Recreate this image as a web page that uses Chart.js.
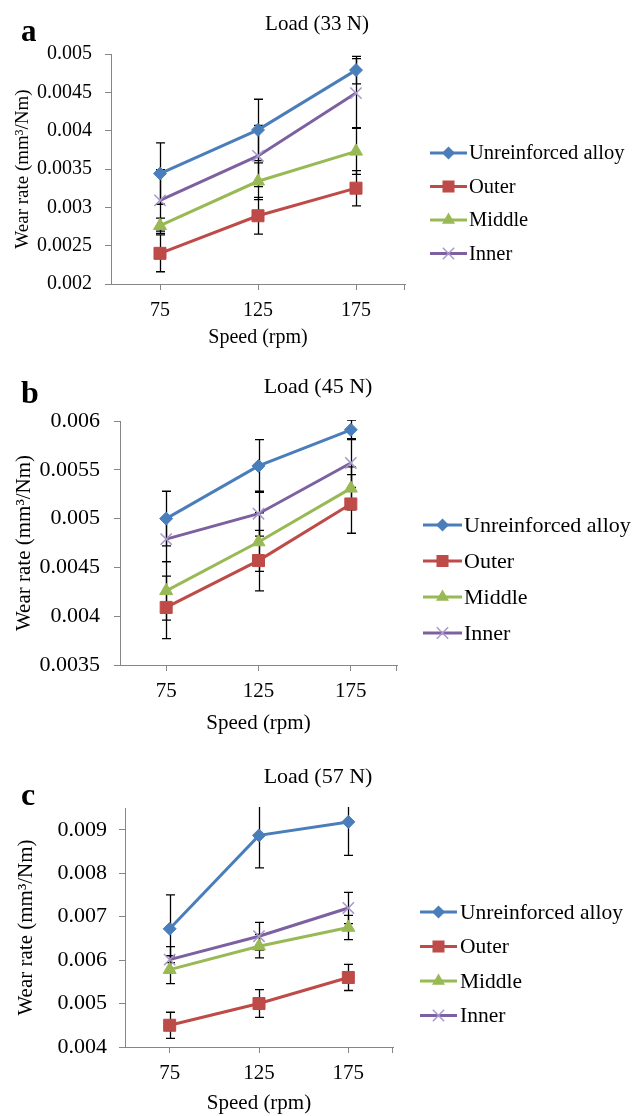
<!DOCTYPE html>
<html>
<head>
<meta charset="utf-8">
<script src="https://cdn.jsdelivr.net/npm/chart.js"></script>
<style>
  html, body { margin: 0; padding: 0; background: #fff; }
  body { width: 632px; height: 1116px; position: relative; overflow: hidden; }
  canvas { position: absolute; left: 0; }
</style>
</head>
<body>
<canvas id="ca" width="632" height="355" style="top:0px"></canvas>
<canvas id="cb" width="632" height="385" style="top:355px"></canvas>
<canvas id="cc" width="632" height="376" style="top:740px"></canvas>
<script>
// ---------- DATA ----------
const speeds = ['75', '125', '175'];
const seriesNames = ['Unreinforced alloy', 'Outer', 'Middle', 'Inner'];

// Panel a: Load (33 N)
const unreinforcedA = [0.00344, 0.00401, 0.00479];
const outerA        = [0.00240, 0.00289, 0.00325];
const middleA       = [0.00276, 0.00334, 0.00373];
const innerA        = [0.00309, 0.00367, 0.00449];
const unreinforcedErrA = [0.00040, 0.00040, 0.00018];
const outerErrA        = [0.00024, 0.00024, 0.00023];
const middleErrA       = [0.00010, 0.00024, 0.00030];
const innerErrA        = [0.00040, 0.00040, 0.00045];

// Panel b: Load (45 N)
const unreinforcedB = [0.00500, 0.00554, 0.00591];
const outerB        = [0.00409, 0.00457, 0.00515];
const middleB       = [0.00426, 0.00476, 0.00531];
const innerB        = [0.00479, 0.00505, 0.00557];
const unreinforcedErrB = [0.00028, 0.00027, 0.00010];
const outerErrB        = [0.00032, 0.00031, 0.00030];
const middleErrB       = [0.00030, 0.00030, 0.00022];
const innerErrB        = [0.00023, 0.00023, 0.00025];

// Panel c: Load (57 N)
const unreinforcedC = [0.00672, 0.00887, 0.00918];
const outerC        = [0.00450, 0.00500, 0.00560];
const middleC       = [0.00578, 0.00632, 0.00675];
const innerC        = [0.00601, 0.00655, 0.00720];
const unreinforcedErrC = [0.00078, 0.00075, 0.00077];
const outerErrC        = [0.00030, 0.00032, 0.00030];
const middleErrC       = [0.00032, 0.00027, 0.00028];
const innerErrC        = [0.00030, 0.00032, 0.00036];

// Axis ranges / tick steps [min, max, step]
const yRangeA = [0.002, 0.005, 0.0005];
const yRangeB = [0.0035, 0.006, 0.0005];
const yRangeC = [0.004, 0.0095, 0.001];

const titleA = 'Load (33 N)', titleB = 'Load (45 N)', titleC = 'Load (57 N)';
const yTitle = 'Wear rate (mm\u00B3/Nm)';
const xTitle = 'Speed (rpm)';

// ---------- STYLE ----------
const SERIF = '"Liberation Serif", "Times New Roman", Times, serif';
const AXIS = '#868686';
const styles = [
  { color: '#4A7EBB', point: 'rectRot', radius: 6.5, pcolor: '#4A7EBB', pbw: 1 },
  { color: '#BE4B48', point: 'rect', radius: 8.5, pcolor: '#BE4B48', pbw: 1 },
  { color: '#98B954', point: 'triangle', radius: 7.5, pcolor: '#98B954', pbw: 1 },
  { color: '#7D60A0', point: 'crossRot', radius: 8, pcolor: '#A898CC', pbw: 1.5 }
];

Chart.defaults.font.family = SERIF;
Chart.defaults.color = '#000';

function drawMarker(ctx, st, x, y) {
  ctx.save();
  ctx.fillStyle = st.pcolor; ctx.strokeStyle = st.pcolor; ctx.lineWidth = st.pbw;
  const r = st.radius;
  ctx.beginPath();
  if (st.point === 'rectRot') {
    ctx.moveTo(x, y - r); ctx.lineTo(x + r, y); ctx.lineTo(x, y + r); ctx.lineTo(x - r, y); ctx.closePath(); ctx.fill();
  } else if (st.point === 'rect') {
    const s = r * Math.SQRT1_2; ctx.rect(x - s, y - s, 2 * s, 2 * s); ctx.fill();
  } else if (st.point === 'triangle') {
    ctx.moveTo(x, y - r); ctx.lineTo(x + r * 0.866, y + r * 0.5); ctx.lineTo(x - r * 0.866, y + r * 0.5); ctx.closePath(); ctx.fill();
  } else {
    const s = r * Math.SQRT1_2;
    ctx.moveTo(x - s, y - s); ctx.lineTo(x + s, y + s); ctx.moveTo(x + s, y - s); ctx.lineTo(x - s, y + s); ctx.stroke();
  }
  ctx.restore();
}

function makeChart(id, p) {
  const datasets = p.series.map((vals, i) => ({
    label: seriesNames[i],
    data: vals,
    borderColor: styles[i].color,
    backgroundColor: styles[i].color,
    borderWidth: 3,
    tension: 0,
    pointStyle: styles[i].point,
    pointRadius: styles[i].radius,
    pointHoverRadius: styles[i].radius,
    pointBackgroundColor: styles[i].pcolor,
    pointBorderColor: styles[i].pcolor,
    pointBorderWidth: styles[i].pbw,
    errors: p.errors[i]
  }));

  const extras = {
    id: 'extras' + id,
    beforeDatasetsDraw(chart) {
      const ctx = chart.ctx, ca = chart.chartArea;
      const ys = chart.scales.y, xs = chart.scales.x;
      ctx.save();
      ctx.beginPath(); ctx.rect(ca.left, ca.top - 1, ca.right - ca.left, ca.bottom - ca.top + 2); ctx.clip();
      ctx.strokeStyle = '#000'; ctx.lineWidth = 1.3;
      chart.data.datasets.forEach((ds) => {
        ds.data.forEach((v, j) => {
          const e = ds.errors[j];
          const x = Math.round(xs.getPixelForValue(j)) + 0.5;
          const y1 = ys.getPixelForValue(v + e), y2 = ys.getPixelForValue(v - e);
          ctx.beginPath();
          ctx.moveTo(x, y1); ctx.lineTo(x, y2);
          ctx.moveTo(x - 4.5, y1); ctx.lineTo(x + 4.5, y1);
          ctx.moveTo(x - 4.5, y2); ctx.lineTo(x + 4.5, y2);
          ctx.stroke();
        });
      });
      ctx.restore();
    },
    afterDraw(chart) {
      const ctx = chart.ctx, ca = chart.chartArea;
      ctx.save();
      // right-end tick on x axis
      ctx.strokeStyle = AXIS; ctx.lineWidth = 1;
      ctx.beginPath(); ctx.moveTo(Math.round(ca.right) - 0.5, ca.bottom); ctx.lineTo(Math.round(ca.right) - 0.5, ca.bottom + 6); ctx.stroke();
      // panel letter
      ctx.fillStyle = '#000';
      ctx.textAlign = 'left'; ctx.textBaseline = 'alphabetic';
      ctx.font = 'bold ' + p.letterSize + 'px ' + SERIF;
      ctx.fillText(p.letter, p.letterX, p.letterY);
      // title
      ctx.textAlign = 'center';
      ctx.font = p.titleSize + 'px ' + SERIF;
      ctx.fillText(p.title, p.titleX, p.titleY);
      // legend
      ctx.textAlign = 'left'; ctx.textBaseline = 'middle';
      ctx.font = p.legendSize + 'px ' + SERIF;
      chart.data.datasets.forEach((ds, i) => {
        const y = p.legendY + i * p.legendGap;
        ctx.strokeStyle = styles[i].color; ctx.lineWidth = 3;
        ctx.beginPath(); ctx.moveTo(p.legendX0, y); ctx.lineTo(p.legendX1, y); ctx.stroke();
        drawMarker(ctx, styles[i], (p.legendX0 + p.legendX1) / 2, y);
        ctx.fillStyle = '#000';
        ctx.fillText(ds.label, p.legendTextX, y + 1);
      });
      ctx.restore();
    }
  };

  return new Chart(document.getElementById(id), {
    type: 'line',
    data: { labels: speeds, datasets },
    options: {
      responsive: false,
      animation: false,
      devicePixelRatio: 1,
      layout: { padding: p.padding },
      plugins: { legend: { display: false }, title: { display: false }, tooltip: { enabled: false } },
      scales: {
        x: {
          offset: true,
          grid: { drawOnChartArea: false, drawTicks: true, tickLength: 6, color: AXIS, offset: false },
          border: { color: AXIS, width: 1 },
          ticks: { font: { size: p.xTickSize }, padding: p.xTickPad, color: '#000', maxRotation: 0 },
          title: { display: true, text: xTitle, font: { size: p.xTitleSize }, padding: 0, color: '#000' },
          afterFit: s => { s.height = p.xAxisH; }
        },
        y: {
          min: p.yRange[0], max: p.yRange[1],
          grid: { drawOnChartArea: false, drawTicks: true, tickLength: 6, color: AXIS },
          border: { color: AXIS, width: 1 },
          ticks: {
            stepSize: p.yRange[2],
            includeBounds: false,
            font: { size: p.yTickSize },
            padding: p.yTickPad,
            color: '#000',
            callback: v => parseFloat(Number(v).toFixed(5)).toString()
          },
          title: { display: true, text: yTitle, font: { size: p.yTitleSize }, padding: 0, color: '#000' },
          afterFit: s => { s.width = p.yAxisW; }
        }
      }
    },
    plugins: [extras]
  });
}

makeChart('ca', {
  series: [unreinforcedA, outerA, middleA, innerA],
  errors: [unreinforcedErrA, outerErrA, middleErrA, innerErrA],
  yRange: yRangeA,
  padding: { left: 12, top: 54, right: 227, bottom: 5 },
  yAxisW: 99, xAxisH: 66,
  xTickSize: 20, xTickPad: 9, yTickSize: 20, yTickPad: 13,
  xTitleSize: 20, yTitleSize: 19,
  letter: 'a', letterSize: 31, letterX: 21, letterY: 41,
  title: titleA, titleSize: 21, titleX: 317, titleY: 30,
  legendY: 153, legendGap: 33.5, legendX0: 430, legendX1: 467, legendTextX: 469, legendSize: 20.5
});

makeChart('cb', {
  series: [unreinforcedB, outerB, middleB, innerB],
  errors: [unreinforcedErrB, outerErrB, middleErrB, innerErrB],
  yRange: yRangeB,
  padding: { left: 12, top: 66, right: 235, bottom: 4 },
  yAxisW: 108, xAxisH: 71,
  xTickSize: 21, xTickPad: 8, yTickSize: 22, yTickPad: 14,
  xTitleSize: 21, yTitleSize: 21,
  letter: 'b', letterSize: 32, letterX: 21, letterY: 48,
  title: titleB, titleSize: 22, titleX: 318, titleY: 38,
  legendY: 170, legendGap: 36, legendX0: 423, legendX1: 462, legendTextX: 464, legendSize: 22
});

makeChart('cc', {
  series: [unreinforcedC, outerC, middleC, innerC],
  errors: [unreinforcedErrC, outerErrC, middleErrC, innerErrC],
  yRange: yRangeC,
  padding: { left: 14, top: 68, right: 239, bottom: 0 },
  yAxisW: 111, xAxisH: 69,
  xTickSize: 21, xTickPad: 8, yTickSize: 22, yTickPad: 12,
  xTitleSize: 21, yTitleSize: 21,
  letter: 'c', letterSize: 32, letterX: 21, letterY: 65,
  title: titleC, titleSize: 22, titleX: 318, titleY: 43,
  legendY: 172, legendGap: 34.5, legendX0: 420, legendX1: 457, legendTextX: 460, legendSize: 21.5
});
</script>
</body>
</html>
